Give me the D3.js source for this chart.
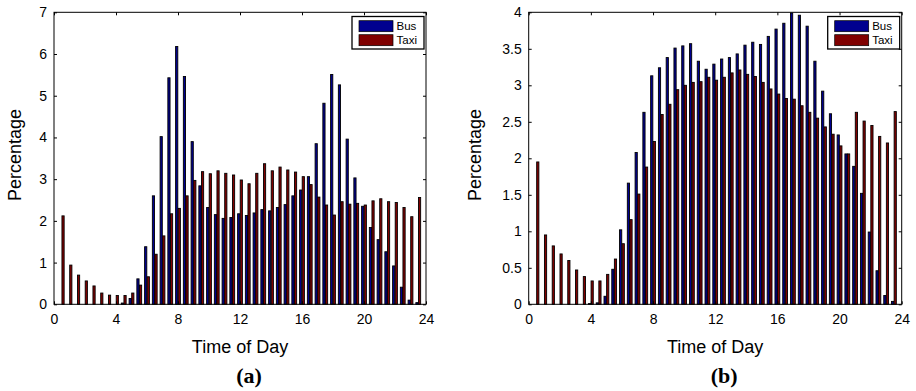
<!DOCTYPE html>
<html>
<head>
<meta charset="utf-8">
<script src="https://cdn.jsdelivr.net/npm/d3@7"></script>
<style>
  body { margin: 0; background: #fff; }
  svg { display: block; }
  text { font-family: "Liberation Sans", Arial, Helvetica, sans-serif; fill: #000; }
</style>
</head>
<body>
<svg id="chart" width="916" height="391"></svg>
<script>
// Half-hour bins of the day
const hours = [0.5, 1, 1.5, 2, 2.5, 3, 3.5, 4, 4.5, 5, 5.5, 6, 6.5, 7, 7.5, 8,
  8.5, 9, 9.5, 10, 10.5, 11, 11.5, 12, 12.5, 13, 13.5, 14, 14.5, 15, 15.5, 16,
  16.5, 17, 17.5, 18, 18.5, 19, 19.5, 20, 20.5, 21, 21.5, 22, 22.5, 23, 23.5];

const seriesNames = ["Bus", "Taxi"];
const seriesColors = ["#00008f", "#800000"];

// (a) share of trips per half hour
const busA = [0, 0, 0, 0, 0, 0, 0, 0, 0.03, 0.14, 0.61, 1.38, 2.6, 4.02, 5.43, 6.18,
  5.46, 3.9, 2.84, 2.32, 2.15, 2.06, 2.08, 2.17, 2.13, 2.19, 2.27, 2.24, 2.32, 2.39, 2.6, 2.74,
  3.06, 3.85, 4.82, 5.51, 5.26, 3.96, 3.03, 2.35, 1.84, 1.55, 1.26, 0.92, 0.41, 0.10, 0.04];
const taxiA = [2.12, 0.94, 0.70, 0.56, 0.44, 0.27, 0.22, 0.21, 0.21, 0.27, 0.46, 0.66, 1.2, 1.64, 2.17, 2.3,
  2.6, 2.97, 3.18, 3.13, 3.2, 3.14, 3.1, 2.98, 2.89, 3.14, 3.37, 3.2, 3.29, 3.22, 3.17, 3.06,
  2.87, 2.57, 2.38, 2.14, 2.46, 2.4, 2.42, 2.38, 2.48, 2.53, 2.46, 2.44, 2.32, 2.1, 2.56];

// (b) share of passengers per half hour
const busB = [0, 0, 0, 0, 0, 0, 0, 0.01, 0.02, 0.11, 0.48, 1.02, 1.66, 2.08, 2.63, 3.13,
  3.24, 3.38, 3.51, 3.54, 3.57, 3.33, 3.22, 3.29, 3.36, 3.38, 3.43, 3.55, 3.59, 3.56, 3.67, 3.77,
  3.85, 3.99, 3.96, 3.81, 3.33, 2.92, 2.61, 2.32, 2.06, 1.89, 1.52, 0.99, 0.46, 0.12, 0.04];
const taxiB = [1.95, 0.95, 0.80, 0.69, 0.60, 0.47, 0.38, 0.32, 0.32, 0.41, 0.62, 0.83, 1.16, 1.51, 1.88, 2.23,
  2.60, 2.74, 2.94, 3.0, 3.04, 3.05, 3.11, 3.07, 3.11, 3.17, 3.21, 3.15, 3.12, 3.04, 2.95, 2.88,
  2.82, 2.81, 2.72, 2.63, 2.55, 2.43, 2.33, 2.17, 2.06, 2.63, 2.51, 2.45, 2.30, 2.21, 2.64];

const xTicks = [0, 4, 8, 12, 16, 20, 24];
const yTicksA = [0, 1, 2, 3, 4, 5, 6, 7];
const yTicksB = [0, 0.5, 1, 1.5, 2, 2.5, 3, 3.5, 4];

const panels = [
  { tag: "(a)", series: [busA, taxiA], yMax: 7, yTicks: yTicksA, x0: 54, x1: 426, yLabelX: 21 },
  { tag: "(b)", series: [busB, taxiB], yMax: 4, yTicks: yTicksB, x0: 528.7, x1: 901.7, yLabelX: 481 }
];

const svg = d3.select("#chart");
svg.append("rect").attr("width", 916).attr("height", 391).attr("fill", "#fff");

const plotTop = 12.3, plotBottom = 304.3;

panels.forEach(p => {
  const g = svg.append("g");
  const x = d3.scaleLinear().domain([0, 24]).range([p.x0, p.x1]);
  const y = d3.scaleLinear().domain([0, p.yMax]).range([plotBottom, plotTop]);
  const sub = d3.scaleBand().domain(seriesNames).range([-2.6, 2.6]);

  // grouped bars with black edges
  seriesNames.forEach((name, si) => {
    g.append("g")
      .selectAll("rect")
      .data(hours.map((h, i) => ({ h, v: p.series[si][i] })))
      .join("rect")
      .attr("x", d => x(d.h) + sub(name) + 0.2)
      .attr("width", sub.bandwidth() - 0.4)
      .attr("y", d => y(d.v))
      .attr("height", d => plotBottom - y(d.v))
      .attr("fill", seriesColors[si])
      .attr("stroke", "#000")
      .attr("stroke-width", 0.9);
  });

  // axes with inward ticks
  const axB = g.append("g").attr("transform", `translate(0,${plotBottom})`)
    .call(d3.axisBottom(x).tickValues(xTicks).tickSizeInner(-3).tickSizeOuter(0).tickPadding(10));
  const axT = g.append("g").attr("transform", `translate(0,${plotTop})`)
    .call(d3.axisTop(x).tickValues(xTicks).tickSizeInner(-3).tickSizeOuter(0).tickFormat(""));
  const axL = g.append("g").attr("transform", `translate(${p.x0},0)`)
    .call(d3.axisLeft(y).tickValues(p.yTicks).tickSizeInner(-3).tickSizeOuter(0).tickPadding(7)
      .tickFormat(d => String(d)));
  const axR = g.append("g").attr("transform", `translate(${p.x1},0)`)
    .call(d3.axisRight(y).tickValues(p.yTicks).tickSizeInner(-3).tickSizeOuter(0).tickFormat(""));
  [axB, axT, axL, axR].forEach(a => {
    a.select(".domain").remove();
    a.selectAll(".tick line").attr("stroke", "#000").attr("stroke-width", 1);
    a.selectAll("text").attr("font-size", 14).attr("font-family", null);
  });

  // axes box
  g.append("rect")
    .attr("x", p.x0).attr("y", plotTop)
    .attr("width", p.x1 - p.x0).attr("height", plotBottom - plotTop)
    .attr("fill", "none").attr("stroke", "#000").attr("stroke-width", 1);

  // axis titles
  g.append("text")
    .attr("x", (p.x0 + p.x1) / 2).attr("y", 353)
    .attr("text-anchor", "middle").attr("font-size", 18)
    .text("Time of Day");
  g.append("text")
    .attr("transform", `translate(${p.yLabelX},155) rotate(-90)`)
    .attr("text-anchor", "middle").attr("font-size", 18)
    .text("Percentage");

  // panel tag
  g.append("text")
    .attr("x", (p.x0 + p.x1) / 2 + 9).attr("y", 383)
    .attr("text-anchor", "middle").attr("font-size", 22).attr("font-weight", "bold")
    .style("font-family", "'Liberation Serif', 'Times New Roman', serif")
    .text(p.tag);

  // legend
  const lw = 72, lh = 32.5;
  const lg = g.append("g").attr("transform", `translate(${p.x1 - 2 - lw},16.5)`);
  lg.append("rect").attr("width", lw).attr("height", lh)
    .attr("fill", "#fff").attr("stroke", "#000").attr("stroke-width", 1.3);
  seriesNames.forEach((name, si) => {
    lg.append("rect")
      .attr("x", 7).attr("y", 4.2 + si * 14).attr("width", 34).attr("height", 11)
      .attr("fill", seriesColors[si]).attr("stroke", "#000").attr("stroke-width", 0.7);
    lg.append("text")
      .attr("x", 44.5).attr("y", 13.8 + si * 14)
      .attr("font-size", 11.5)
      .text(name);
  });
});
</script>
</body>
</html>
